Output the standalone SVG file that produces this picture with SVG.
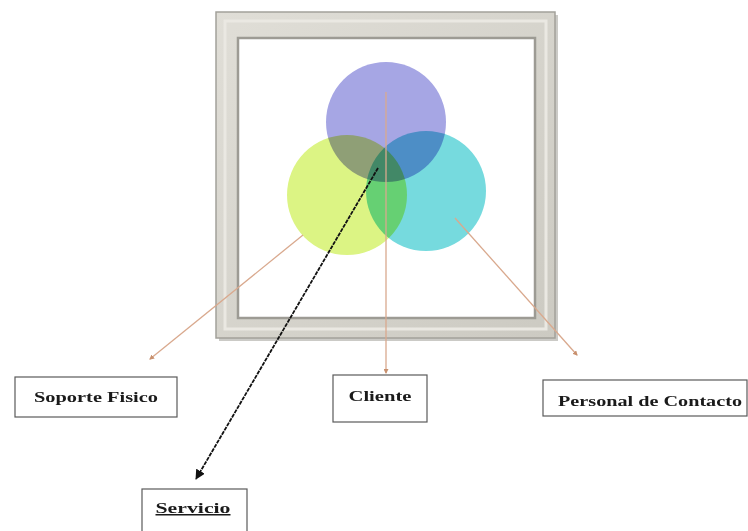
<svg xmlns="http://www.w3.org/2000/svg" width="748" height="531" viewBox="0 0 748 531">
<defs>
<style>
.lbl{font-family:"Liberation Serif","Times New Roman",serif;font-weight:bold;font-size:15px;fill:#1a1a1a;text-anchor:middle}
.box{fill:#ffffff;stroke:#5a5a5a;stroke-width:1.2}
.tan{stroke:#d9a98e;stroke-width:1.3;fill:none}
.c{mix-blend-mode:multiply}
</style>
<marker id="tanHead" viewBox="0 0 10 10" refX="8" refY="5" markerWidth="5" markerHeight="5" orient="auto" markerUnits="userSpaceOnUse">
<path d="M0,0 L10,5 L0,10 z" fill="#c8906e"/>
</marker>
<marker id="blackHead" viewBox="0 0 10 10" refX="9" refY="5" markerWidth="10" markerHeight="10" orient="auto" markerUnits="userSpaceOnUse">
<path d="M0,0 L10,5 L0,10 z" fill="#111"/>
</marker>
<linearGradient id="frameG" x1="0" y1="0" x2="1" y2="1">
<stop offset="0" stop-color="#e0ded7"/>
<stop offset="1" stop-color="#cccac2"/>
</linearGradient>
</defs>
<rect width="748" height="531" fill="#ffffff"/>
<g id="frame">
<rect x="219" y="15" width="339" height="326" fill="#a9a7a0" opacity="0.6"/>
<rect x="216" y="12" width="339" height="326" fill="url(#frameG)" stroke="#a3a19a" stroke-width="1.5"/>
<rect x="225" y="21" width="321" height="308" fill="none" stroke="#eae8e2" stroke-width="3"/>
<rect x="238" y="38" width="297" height="280" fill="#ffffff" stroke="#9d9b94" stroke-width="2.5"/>
</g>
<g id="venn">
<circle id="cliente-circle" class="c" cx="386" cy="122" r="60" fill="#a6a6e4"/>
<circle id="soporte-circle" class="c" cx="347" cy="195" r="60" fill="#dcf484"/>
<circle id="personal-circle" class="c" cx="426" cy="191" r="60" fill="#76dade"/>
</g>
<g id="connectors">
<line class="tan" x1="303" y1="235" x2="150" y2="359" marker-end="url(#tanHead)"/>
<line class="tan" x1="386" y1="92" x2="386" y2="373" marker-end="url(#tanHead)"/>
<line class="tan" x1="455" y1="218" x2="577" y2="355" marker-end="url(#tanHead)"/>
<line x1="378" y1="168" x2="196" y2="479" stroke="#111" stroke-width="1.8" stroke-dasharray="4 1" marker-end="url(#blackHead)"/>
</g>
<g id="soporte">
<rect class="box" x="15" y="377" width="162" height="40"/>
<text class="lbl" x="96" y="402" textLength="124" lengthAdjust="spacingAndGlyphs">Soporte Fisico</text>
</g>
<g id="cliente">
<rect class="box" x="333" y="375" width="94" height="47"/>
<text class="lbl" x="380" y="401" textLength="63" lengthAdjust="spacingAndGlyphs">Cliente</text>
</g>
<g id="personal">
<rect class="box" x="543" y="380" width="204" height="36"/>
<text class="lbl" x="650" y="406" textLength="184" lengthAdjust="spacingAndGlyphs">Personal de Contacto</text>
</g>
<g id="servicio">
<rect class="box" x="142" y="489" width="105" height="50"/>
<text class="lbl" x="193" y="513" textLength="75" lengthAdjust="spacingAndGlyphs" text-decoration="underline">Servicio</text>
</g>
</svg>
